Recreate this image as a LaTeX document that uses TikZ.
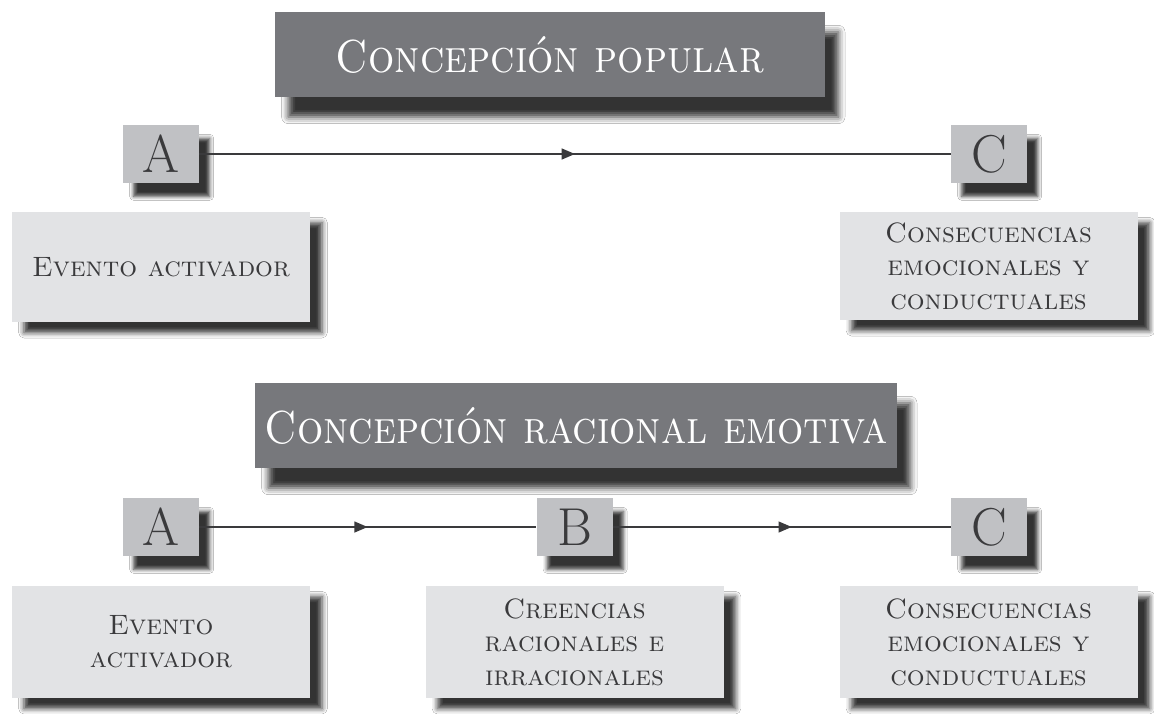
\documentclass[tikz,border=0pt]{standalone}
\usepackage{fontspec}
\usetikzlibrary{shadows.blur,arrows.meta,decorations.markings}
\definecolor{titlegray}{RGB}{119,120,124}
\definecolor{lettergray}{RGB}{192,193,196}
\definecolor{boxgray}{RGB}{226,227,229}
\definecolor{inkgray}{RGB}{58,58,60}
\newcommand{\tallsc}[2][1.12]{\scalebox{1}[#1]{#2}}
\tikzset{
  titlebox/.style={fill=titlegray, text=white, inner sep=0pt,
    font=\fontsize{31}{34}\selectfont\scshape\addfontfeatures{FakeBold=0.4},
    minimum height=63.75pt,
    blur shadow={shadow xshift=10pt, shadow yshift=-15pt, shadow blur radius=5pt, shadow opacity=80}},
  letterbox/.style={fill=lettergray, text=inkgray, inner sep=0pt,
    font=\fontsize{40}{42}\selectfont\addfontfeatures{FakeBold=0.6},
    minimum width=57pt, minimum height=43.5pt,
    blur shadow={shadow xshift=8pt, shadow yshift=-10pt, shadow blur radius=3pt, shadow opacity=80}},
  textbox/.style={fill=boxgray, text=inkgray, inner sep=0pt, align=center,
    font=\fontsize{21}{25}\selectfont\scshape\addfontfeatures{FakeBold=0.5},
    minimum width=223.5pt,
    blur shadow={shadow xshift=9pt, shadow yshift=-8pt, shadow blur radius=4pt, shadow opacity=80}},
  conn/.style={draw=inkgray, line width=1.6pt,
    postaction={decorate, decoration={markings,
      mark=at position #1 with {\arrow{Triangle[length=10pt,width=8pt]}}}}},
  conn/.default=0.5
}
\begin{document}
\begin{tikzpicture}[x=0.75pt,y=-0.75pt]
\fill[white] (0,0) rectangle (1154,714);
\useasboundingbox (0,0) rectangle (1154,714);
% top section
\node[titlebox, minimum width=412.5pt] (t1) at (550,54.5) {\tallsc{Concepción popular}};
\node[letterbox] (a1) at (161,154) {A};
\node[letterbox] (c1) at (989,154) {C};
\node[textbox, minimum height=82.5pt] (e1) at (161,267) {Evento activador};
\node[textbox, minimum height=81pt] (q1) at (988.5,266) {Consecuencias\\emocionales y\\conductuales};
\draw[conn] (a1.east) -- (c1.west);
% bottom section
\node[titlebox, minimum width=481.5pt] (t2) at (576,425.5) {\tallsc{Concepción racional emotiva}};
\node[letterbox] (a2) at (161,527) {A};
\node[letterbox] (b2) at (574.5,527) {B};
\node[letterbox] (c2) at (989,527) {C};
\node[textbox, minimum height=84pt] (e2) at (161,642) {Evento\\activador};
\node[textbox, minimum height=84pt] (r2) at (574.5,642) {Creencias\\racionales e\\irracionales};
\node[textbox, minimum height=84pt] (q2) at (988.5,642) {Consecuencias\\emocionales y\\conductuales};
\draw[conn] (a2.east) -- (b2.west);
\draw[conn=0.53] (b2.east) -- (c2.west);
\end{tikzpicture}
\end{document}
